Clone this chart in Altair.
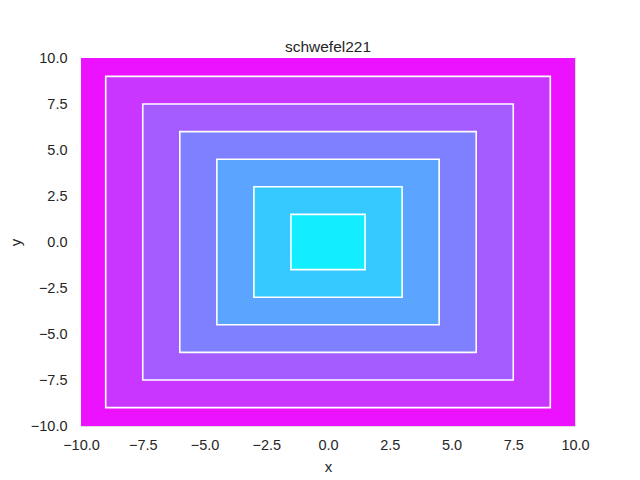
import altair as alt
import pandas as pd

# contour band upper limits (outermost first) and their fill colours (cool colormap)
levels = [10.0, 9.0, 7.5, 6.0, 4.5, 3.0, 1.5]
colors = ["#ED12FF", "#C836FF", "#A45BFF", "#7F80FF", "#5BA4FF", "#36C9FF", "#12EDFF"]
lines = [False, True, True, True, True, True, True]
ticks = [-10, -7.5, -5, -2.5, 0, 2.5, 5, 7.5, 10]

df = pd.DataFrame({
    "x0": [-l for l in levels],
    "x1": levels,
    "y0": [-l for l in levels],
    "y1": levels,
    "color": colors,
    "order": list(range(len(levels))),
    "line": lines,
})

font = "Liberation Sans"
xs = alt.Scale(domain=[-10, 10], nice=False, zero=False)
ys = alt.Scale(domain=[-10, 10], nice=False, zero=False)

axis_common = dict(domain=False, ticks=False, grid=False, labelFont=font, labelFontSize=14.5,
                   labelColor="#262626", titleFont=font, titleFontSize=15, titleColor="#262626",
                   titleFontWeight="normal", values=ticks, format=".1f", labelFlush=False)

fills = alt.Chart(df).mark_rect(strokeWidth=1.6).encode(
    x=alt.X("x0:Q", scale=xs, axis=alt.Axis(title="x", labelPadding=12, titlePadding=8, **axis_common)),
    x2="x1:Q",
    y=alt.Y("y0:Q", scale=ys, axis=alt.Axis(title="y", labelPadding=14, titlePadding=7, **axis_common)),
    y2="y1:Q",
    color=alt.Color("color:N", scale=None),
    stroke=alt.condition(alt.datum.line, alt.value("white"), alt.value(None)),
    order=alt.Order("order:Q"),
)

chart = fills.properties(
    width=494, height=368,
    title=alt.TitleParams("schwefel221", font=font, fontSize=15.5, fontWeight="normal",
                          color="#262626", offset=6, dy=11, frame="group"),
    autosize=alt.AutoSizeParams(type="none"),
    padding={"left": 73, "top": 50, "right": 50, "bottom": 50},
).configure_view(stroke=None).configure(background="white")

chart.save("out.html", embed_options={"renderer": "svg", "actions": False})
